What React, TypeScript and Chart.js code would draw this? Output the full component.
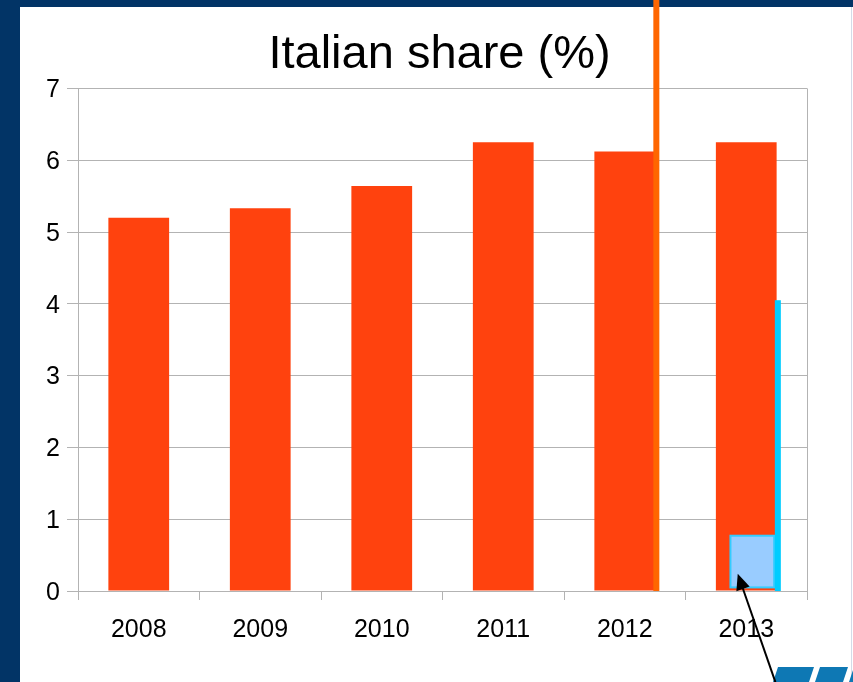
import React, { useEffect, useRef } from "react";
import { Chart, registerables } from "chart.js";

Chart.register(...registerables);

// ---- data ----
const categories = ["2008", "2009", "2010", "2011", "2012", "2013"];
const shareValues = [5.2, 5.33, 5.64, 6.25, 6.12, 6.25];
const yMin = 0;
const yMax = 7;
const yStep = 1;
const chartTitle = "Italian share (%)";

// overlay annotations (category index, value units)
const orangeLineX = 4.26;
const cyanLineX = 5.26;
const cyanLineTop = 4.05;
const boxX = [4.87, 5.23];
const boxY = [0.05, 0.77];
const arrowFrom = [5.24, -1.27];
const arrowTo = [4.93, 0.24];

const FONT = "'Liberation Sans', Arial, sans-serif";
const GRID = "#b3b3b3";
const FRAME = "#023466";

const decorPlugin = {
  id: "decor",
  beforeDraw(chart: any) {
    const { ctx, width, height } = chart;
    ctx.save();
    ctx.fillStyle = "#ffffff";
    ctx.fillRect(0, 0, width, height);
    ctx.fillStyle = FRAME;
    ctx.fillRect(0, 0, width, 7);
    ctx.fillRect(0, 0, 20, height);
    ctx.fillStyle = "#d4dbe8";
    ctx.fillRect(width - 2, 7, 1, height - 7);
    ctx.restore();
  },
  afterDraw(chart: any) {
    const { ctx, width, height } = chart;
    const xs = chart.scales.x;
    const ys = chart.scales.y;
    const y0 = ys.getPixelForValue(0);
    ctx.save();
    // orange line
    ctx.fillStyle = "#ff6600";
    const ox = xs.getPixelForValue(orangeLineX);
    ctx.fillRect(ox - 3, 0, 6, y0);
    // highlight box
    const bx0 = xs.getPixelForValue(boxX[0]);
    const bx1 = xs.getPixelForValue(boxX[1]);
    const by0 = ys.getPixelForValue(boxY[0]);
    const by1 = ys.getPixelForValue(boxY[1]);
    ctx.fillStyle = "#99ccff";
    ctx.fillRect(bx0, by1, bx1 - bx0, by0 - by1);
    ctx.strokeStyle = "#33ccff";
    ctx.lineWidth = 2;
    ctx.strokeRect(bx0, by1, bx1 - bx0, by0 - by1);
    // cyan line
    ctx.fillStyle = "#00ccff";
    const cx = xs.getPixelForValue(cyanLineX);
    const cy = ys.getPixelForValue(cyanLineTop);
    ctx.fillRect(cx - 3, cy, 6, y0 - cy);
    // logo at bottom right
    ctx.fillStyle = "#0e78b4";
    const segs = [
      [width - 80, width - 44],
      [width - 38, width - 10],
      [width - 4, width + 20],
    ];
    const top = height - 15;
    for (const [a, b] of segs) {
      ctx.beginPath();
      ctx.moveTo(a + 5, top);
      ctx.lineTo(b + 5, top);
      ctx.lineTo(b, height);
      ctx.lineTo(a, height);
      ctx.closePath();
      ctx.fill();
    }
    // arrow
    const ax0 = xs.getPixelForValue(arrowFrom[0]);
    const ay0 = ys.getPixelForValue(arrowFrom[1]);
    const ax1 = xs.getPixelForValue(arrowTo[0]);
    const ay1 = ys.getPixelForValue(arrowTo[1]);
    const ang = Math.atan2(ay1 - ay0, ax1 - ax0);
    const hl = 16;
    const hw = 7;
    ctx.strokeStyle = "#000000";
    ctx.lineWidth = 2;
    ctx.beginPath();
    ctx.moveTo(ax0, ay0);
    ctx.lineTo(ax1 - Math.cos(ang) * (hl - 2), ay1 - Math.sin(ang) * (hl - 2));
    ctx.stroke();
    ctx.fillStyle = "#000000";
    ctx.beginPath();
    ctx.moveTo(ax1, ay1);
    const bxh = ax1 - Math.cos(ang) * hl;
    const byh = ay1 - Math.sin(ang) * hl;
    ctx.lineTo(bxh + Math.sin(ang) * hw, byh - Math.cos(ang) * hw);
    ctx.lineTo(bxh - Math.sin(ang) * hw, byh + Math.cos(ang) * hw);
    ctx.closePath();
    ctx.fill();
    ctx.restore();
  },
};

export default function App() {
  const canvasRef = useRef<HTMLCanvasElement | null>(null);

  useEffect(() => {
    if (!canvasRef.current) return;
    const chart = new Chart(canvasRef.current, {
      type: "bar",
      data: {
        labels: categories,
        datasets: [
          {
            label: chartTitle,
            data: shareValues,
            backgroundColor: "#ff420e",
            borderWidth: 0,
            barPercentage: 0.5,
            categoryPercentage: 1.0,
            yAxisID: "y",
          },
        ],
      },
      options: {
        responsive: false,
        animation: false,
        devicePixelRatio: 1,
        layout: { padding: { left: 26, right: 0, top: 7, bottom: 0 } },
        plugins: {
          legend: { display: false },
          tooltip: { enabled: false },
          title: {
            display: true,
            text: chartTitle,
            color: "#000000",
            font: { family: FONT, size: 47, weight: "normal" },
            padding: { top: 20, bottom: 5 },
          },
        },
        scales: {
          x: {
            offset: true,
            grid: {
              offset: true,
              drawOnChartArea: true,
              color: (c: any) =>
                c.type !== "tick" || c.index === 0 ? GRID : "rgba(0,0,0,0)",
              tickColor: GRID,
              tickLength: 9,
              lineWidth: 1,
            },
            border: { color: GRID },
            ticks: {
              color: "#000000",
              font: { family: FONT, size: 25 },
              padding: 15,
              maxRotation: 0,
            },
            afterFit: (s: any) => {
              s.height = 91;
            },
          },
          y: {
            position: "left",
            min: yMin,
            max: yMax,
            grid: { color: GRID, tickLength: 11, tickColor: GRID },
            border: { color: GRID },
            ticks: {
              stepSize: yStep,
              color: "#000000",
              font: { family: FONT, size: 25 },
              padding: 7,
              labelOffset: 2,
            },
            afterFit: (s: any) => {
              s.width = 52;
            },
          },
          yRight: {
            type: "linear",
            position: "right",
            min: yMin,
            max: yMax,
            grid: { display: false },
            border: { display: false },
            ticks: { display: false },
            afterFit: (s: any) => {
              s.width = 46;
            },
          },
        },
      },
      plugins: [decorPlugin],
    });
    return () => chart.destroy();
  }, []);

  return (
    <div style={{ position: "fixed", left: 0, top: 0, width: 853, height: 682 }}>
      <canvas
        ref={canvasRef}
        width={853}
        height={682}
        style={{ display: "block", width: 853, height: 682 }}
      />
    </div>
  );
}
